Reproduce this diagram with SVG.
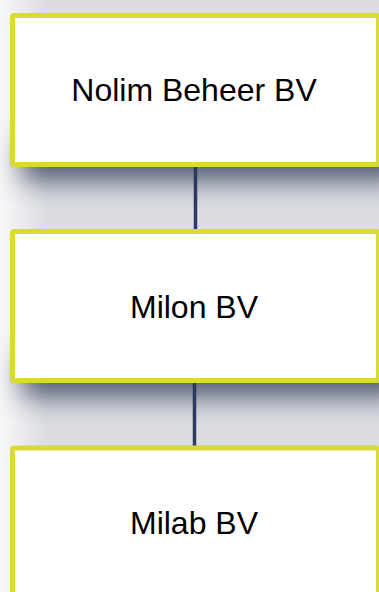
<svg xmlns="http://www.w3.org/2000/svg" width="379" height="592" viewBox="0 0 379 592">
  <defs>
    <linearGradient id="bgLeft" x1="0" y1="0" x2="1" y2="0">
      <stop offset="0" stop-color="#f8f8f9"/>
      <stop offset="1" stop-color="#f8f8f9" stop-opacity="0"/>
    </linearGradient>
    <filter id="blur" x="-20%" y="-100%" width="140%" height="300%">
      <feGaussianBlur stdDeviation="14"/>
    </filter>
    <style>
      .box { fill: #ffffff; stroke: #d9d93b; stroke-width: 5; }
      .shadow { fill: #3a445e; opacity: 0.9; filter: url(#blur); }
      .label { font-family: "Liberation Sans", Arial, Helvetica, sans-serif; font-size: 32px; fill: #000000; text-anchor: middle; }
      .conn { stroke: #2b3a5e; stroke-width: 3.5; fill: none; }
    </style>
  </defs>
  <rect x="0" y="0" width="379" height="592" fill="#dcdde2"/>
  <rect x="0" y="0" width="45" height="592" fill="url(#bgLeft)"/>
  <g id="shadows">
    <rect class="shadow" x="22" y="140" width="380" height="40"/>
    <rect class="shadow" x="22" y="356" width="380" height="40"/>
  </g>
  <g id="connectors">
    <line class="conn" x1="195.5" y1="167" x2="195.5" y2="229"/>
    <line class="conn" x1="194.5" y1="383" x2="194.5" y2="446"/>
  </g>
  <g id="node1">
    <rect class="box" x="12.5" y="15.5" width="366" height="149" rx="1.5"/>
    <text class="label" x="194" y="101">Nolim Beheer BV</text>
  </g>
  <g id="node2">
    <rect class="box" x="12.5" y="231.5" width="366" height="149" rx="1.5"/>
    <text class="label" x="194" y="318">Milon BV</text>
  </g>
  <g id="node3">
    <rect class="box" x="12.5" y="448" width="366" height="149" rx="1.5"/>
    <text class="label" x="194" y="534">Milab BV</text>
  </g>
</svg>
